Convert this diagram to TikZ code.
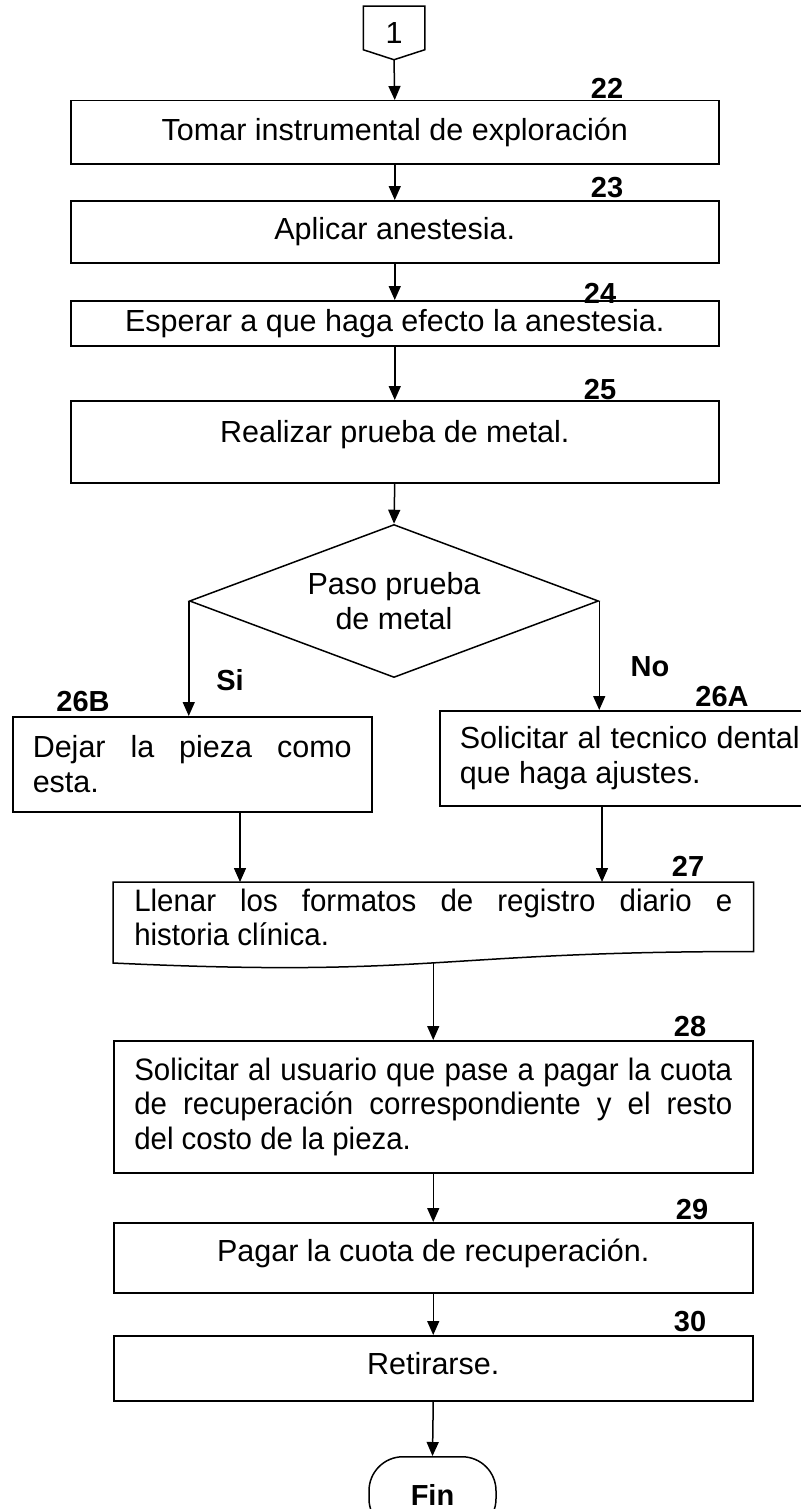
\documentclass[tikz,border=0pt]{standalone}
\usepackage{fontspec}
\setmainfont{Liberation Sans}
\newfontfamily\narrowfam[FakeStretch=0.95]{Liberation Sans}
\usetikzlibrary{arrows.meta,shapes.geometric,calc}
\hyphenpenalty=10000
\exhyphenpenalty=10000
\newcommand{\fsmain}{\fontsize{30.5}{34.5}\selectfont\hyphenpenalty=10000\relax}
\newcommand{\fsnarrow}{\narrowfam\fontsize{31}{34.5}\selectfont\hyphenpenalty=10000\spaceskip=8.2pt plus 12pt minus 0pt\relax}
\newcommand{\fsnum}{\fontsize{29}{32}\selectfont\bfseries}
\begin{document}
\begin{tikzpicture}[x=1pt,y=-1pt,line width=1.5pt,
  box/.style={draw, rectangle, inner sep=0pt, font=\fsmain},
  num/.style={font=\fsnum, inner sep=0pt},
  arr/.style={-{Triangle[length=14pt,width=12pt]}}]
\useasboundingbox (0,0) rectangle (800,1509);

% off-page connector
\node[box, draw=none, minimum width=60pt, minimum height=52pt] (c1) at (394,33) {1};
\draw (c1.north west) -- (c1.north east) -- ([yshift=10pt]c1.south east) -- (c1.south) -- ([yshift=10pt]c1.south west) -- cycle;

% top boxes
\node[box, minimum width=648pt, minimum height=63pt, anchor=north west] (b22) at (70,100) {Tomar instrumental de exploración};
\node[box, minimum width=648pt, minimum height=62pt, anchor=north west] (b23) at (70,200) {Aplicar anestesia.};
\node[box, minimum width=648pt, minimum height=45pt, anchor=north west] (b24) at (70,300) {Esperar a que haga efecto la anestesia.};
\node[box, minimum width=648pt, text height=42pt, text depth=40pt, anchor=north west] (b25) at (70,400) {Realizar prueba de metal.};

\node[num] (n22) at (607,88) {22};
\node[num] (n23) at (607,188) {23};
\node[num] (n24) at (600,293) {24};
\node[num] (n25) at (600,390) {25};

% decision
\node[draw, diamond, aspect=2.67, minimum width=409pt, minimum height=153pt, inner sep=0pt, font=\fsmain, align=center] (dec) at (394,601) {Paso prueba\\de metal};

% branches
\node[box, anchor=north west, text width=319pt, inner xsep=20pt, minimum height=95pt, align=justify] (b26b) at (12,716) {Dejar la pieza como esta.};
\node[box, anchor=north west, text width=340pt, inner xsep=20pt, minimum height=95pt, align=justify] (b26a) at (439,710) {Solicitar al tecnico dental que haga ajustes.};
\node[num] (n26b) at (83,702) {26B};
\node[num] (n26a) at (722,697) {26A};
\node[num] (si) at (230,680) {Si};
\node[num] (no) at (650,667) {No};

% document shape 27
\node[box, draw=none, font=\fsnarrow, anchor=north west, text width=598pt, inner xsep=20.5pt, inner ysep=6pt, align=justify] (b27) at (113,882) {Llenar los formatos de registro diario e historia clínica.};
\draw (b27.north west) -- (b27.north east) -- ($(b27.north east)+(0,69.5)$) .. controls ($(b27.north)+(0,69.5)$) and ($(b27.north)+(0,96)$) .. ($(b27.north west)+(0,81)$) -- cycle;
\coordinate (b27b) at ($(b27.north)+(0,80.9)$);
\node[num] (n27) at (688,866) {27};

\node[box, font=\fsnarrow, anchor=north west, text width=598pt, inner xsep=20.5pt, minimum height=132pt, align=justify] (b28) at (113,1040) {Solicitar al usuario que pase a pagar la cuota de recuperación correspondiente y el resto del costo de la pieza.};
\node[num] (n28) at (690,1027) {28};

\node[box, minimum width=639pt, text height=38.5pt, text depth=31.5pt, anchor=north west] (b29) at (113,1222) {Pagar la cuota de recuperación.};
\node[num] (n29) at (692,1210) {29};
\node[box, minimum width=639pt, text height=38.5pt, text depth=26.5pt, anchor=north west] (b30) at (113,1335) {Retirarse.};
\node[num] (n30) at (690,1322) {30};

\node[draw, rounded corners=34pt, minimum width=127pt, minimum height=76pt, anchor=north, font=\fsnum, inner sep=0pt] (fin) at (432.5,1456) {Fin};

% connectors
\coordinate (l26) at ([xshift=228pt]b26b.south west);
\coordinate (r26) at ([xshift=163pt]b26a.south west);
\draw[arr] (c1.south) -- (b22.north);
\draw[arr] (b22.south) -- (b23.north);
\draw[arr] (b23.south) -- (b24.north);
\draw[arr] (b24.south) -- (b25.north);
\draw[arr] (b25.south) -- (dec.north);
\draw[arr] (dec.west) -- (dec.west |- b26b.north);
\draw[arr] (dec.east) -- (dec.east |- b26a.north);
\draw[arr] (l26) -- (l26 |- b27.north);
\draw[arr] (r26) -- (r26 |- b27.north);
\draw[arr] (b27b) -- (b27b |- b28.north);
\draw[arr] (b28.south) -- (b29.north);
\draw[arr] (b29.south) -- (b30.north);
\draw[arr] (b30.south) -- (fin.north);
\end{tikzpicture}
\end{document}
